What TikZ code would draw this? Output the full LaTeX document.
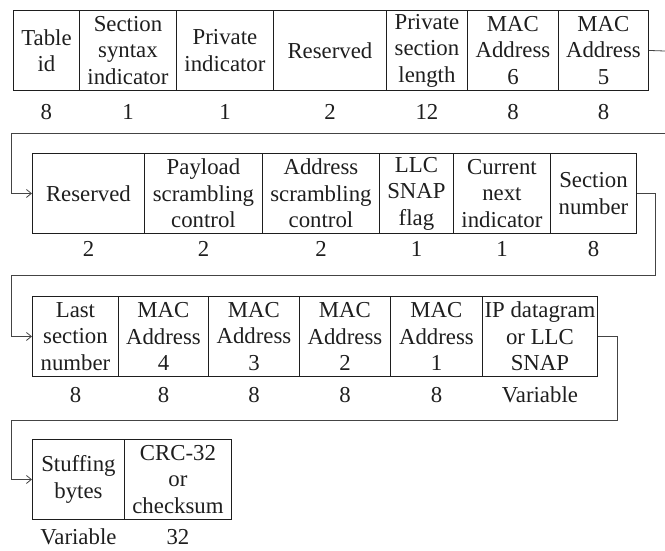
\documentclass[tikz,border=0pt]{standalone}
\usepackage{fontspec}
\setmainfont{Liberation Serif}
\usetikzlibrary{arrows.meta}
\definecolor{ink}{HTML}{1E1E1E}
\definecolor{wire}{HTML}{444444}
\tikzset{
  field/.style={draw=ink, line width=0.9pt, inner sep=0pt, align=center,
    text=ink, font=\fontsize{22.8}{26.5}\selectfont, anchor=north west},
  bits/.style={inner sep=0pt, text=ink, font=\fontsize{22.8}{26.5}\selectfont},
  link/.style={draw=wire, line width=0.8pt},
  linkarrow/.style={link, -{Straight Barb[length=5pt,width=8pt,line width=0.8pt]}},
}
% field box: name, left x, right x, top y, text
\newcommand{\fieldbox}[5]{%
  \pgfmathsetmacro{\fw}{#3-#2}%
  \node[field, minimum width=\fw pt, minimum height=80pt] (#1) at (#2,#4) {#5};}
\begin{document}
\begin{tikzpicture}[x=1pt, y=-1pt]
\useasboundingbox (0,0) rectangle (665,550);

% ---- row 1 ----
\fieldbox{r1a}{13}{79}{10}{Table\\id}
\fieldbox{r1b}{79}{176}{10}{Section\\syntax\\indicator}
\fieldbox{r1c}{176}{273}{10}{Private\\indicator}
\fieldbox{r1d}{273}{386}{10}{Reserved}
\fieldbox{r1e}{386}{467}{10}{Private\\section\\length}
\fieldbox{r1f}{467}{558}{10}{MAC\\Address\\6}
\fieldbox{r1g}{558}{648}{10}{MAC\\Address\\5}
\node[bits] (n1a) at (r1a |- 0,112) {8};
\node[bits] (n1b) at (r1b |- 0,112) {1};
\node[bits] (n1c) at (r1c |- 0,112) {1};
\node[bits] (n1d) at (r1d |- 0,112) {2};
\node[bits] (n1e) at (r1e |- 0,112) {12};
\node[bits] (n1f) at (r1f |- 0,112) {8};
\node[bits] (n1g) at (r1g |- 0,112) {8};

% ---- row 2 ----
\fieldbox{r2a}{32}{144}{153}{Reserved}
\fieldbox{r2b}{144}{262}{153}{Payload\\scrambling\\control}
\fieldbox{r2c}{262}{379}{153}{Address\\scrambling\\control}
\fieldbox{r2d}{379}{453}{153}{LLC\\SNAP\\flag}
\fieldbox{r2e}{453}{550}{153}{Current\\next\\indicator}
\fieldbox{r2f}{550}{636}{153}{Section\\number}
\node[bits] (n2a) at (r2a |- 0,249) {2};
\node[bits] (n2b) at (r2b |- 0,249) {2};
\node[bits] (n2c) at (r2c |- 0,249) {2};
\node[bits] (n2d) at (r2d |- 0,249) {1};
\node[bits] (n2e) at (r2e |- 0,249) {1};
\node[bits] (n2f) at (r2f |- 0,249) {8};

% ---- row 3 ----
\fieldbox{r3a}{32}{118}{296}{Last\\section\\number}
\fieldbox{r3b}{118}{208}{296}{MAC\\Address\\4}
\fieldbox{r3c}{208}{299}{296}{MAC\\Address\\3}
\fieldbox{r3d}{299}{390}{296}{MAC\\Address\\2}
\fieldbox{r3e}{390}{482}{296}{MAC\\Address\\1}
\fieldbox{r3f}{482}{597}{296}{IP datagram\\or LLC\\SNAP}
\node[bits] (n3a) at (r3a |- 0,395) {8};
\node[bits] (n3b) at (r3b |- 0,395) {8};
\node[bits] (n3c) at (r3c |- 0,395) {8};
\node[bits] (n3d) at (r3d |- 0,395) {8};
\node[bits] (n3e) at (r3e |- 0,395) {8};
\node[bits] (n3f) at (r3f |- 0,395) {Variable};

% ---- row 4 ----
\fieldbox{r4a}{32}{124}{439}{Stuffing\\bytes}
\fieldbox{r4b}{124}{231}{439}{CRC-32\\or\\checksum}
\node[bits] (n4a) at (r4a |- 0,537) {Variable};
\node[bits] (n4b) at (r4b |- 0,537) {32};

% ---- continuation lines between rows ----
\coordinate (e1) at (665,51);
\coordinate (s2) at (665,133);
\coordinate (w2) at (11,133);
\coordinate (t2) at (655,275);
\coordinate (w3) at (11,275);
\coordinate (t3) at (617,420);
\coordinate (w4) at (11,420);

\draw[link] (r1g.east) -- (e1);
\draw[linkarrow] (s2) -- (w2) |- (r2a.west);
\draw[linkarrow] (r2f.east) -| (t2) -- (w3) |- (r3a.west);
\draw[linkarrow] (r3f.east) -| (t3) -- (w4) |- (r4a.west);
\end{tikzpicture}
\end{document}
